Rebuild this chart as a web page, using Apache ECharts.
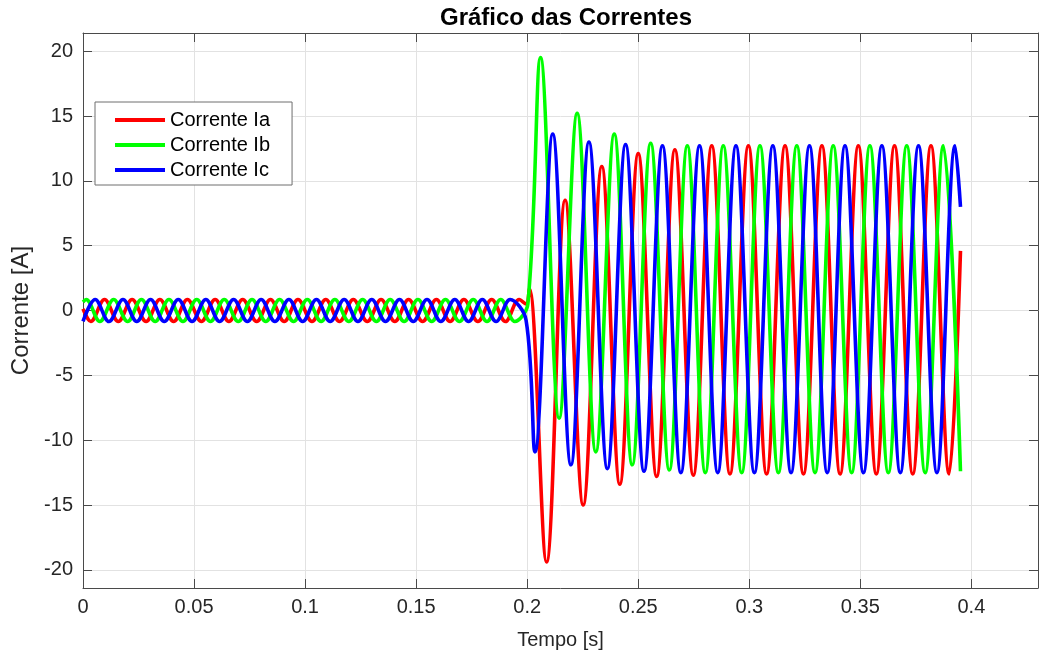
<!DOCTYPE html>
<html>
<head>
<meta charset="utf-8">
<title>Gráfico das Correntes</title>
<script src="https://cdn.jsdelivr.net/npm/echarts@6/dist/echarts.min.js"></script>
<style>
  html, body { margin: 0; padding: 0; background: #fff; }
  #chart { width: 1046px; height: 657px; }
</style>
</head>
<body>
<div id="chart"></div>
<script>
// Phase currents: extrema (peaks / troughs) and end points of each trace, time in s, current in A
const iaTime = [0, 0.0035, 0.0097, 0.0159, 0.0221, 0.0284, 0.0346, 0.0408, 0.0470, 0.0533, 0.0595,
  0.0657, 0.0719, 0.0782, 0.0844, 0.0906, 0.0968, 0.1031, 0.1093, 0.1155, 0.1217, 0.1280, 0.1342,
  0.1404, 0.1466, 0.1529, 0.1591, 0.1653, 0.1715, 0.1778, 0.1840, 0.1902, 0.1964, 0.1995, 0.2010,
  0.2087, 0.2171, 0.2252, 0.2336, 0.2417, 0.2500, 0.2583, 0.2665, 0.2748, 0.2831, 0.2913, 0.2996,
  0.3078, 0.3161, 0.3244, 0.3327, 0.3409, 0.3491, 0.3572, 0.3654, 0.3736, 0.3818, 0.3900, 0.3951];
const iaValue = [0.13, -0.85, 0.85, -0.85, 0.85, -0.85, 0.85, -0.85, 0.85, -0.85, 0.85,
  -0.85, 0.85, -0.85, 0.85, -0.85, 0.85, -0.85, 0.85, -0.85, 0.85, -0.85, 0.85,
  -0.85, 0.85, -0.85, 0.85, -0.85, 0.85, -0.85, 0.85, -0.85, 0.85, 0.5, 1.7,
  -19.4, 8.5, -15.0, 11.1, -13.4, 12.1, -12.8, 12.4, -12.7, 12.7, -12.6, 12.7,
  -12.6, 12.7, -12.6, 12.7, -12.6, 12.7, -12.6, 12.7, -12.6, 12.7, -12.6, 4.6];

const ibTime = [0, 0.0014, 0.0076, 0.0138, 0.0201, 0.0263, 0.0325, 0.0387, 0.0450, 0.0512, 0.0574,
  0.0636, 0.0699, 0.0761, 0.0823, 0.0885, 0.0948, 0.1010, 0.1072, 0.1134, 0.1197, 0.1259, 0.1321,
  0.1383, 0.1446, 0.1508, 0.1570, 0.1632, 0.1695, 0.1757, 0.1819, 0.1881, 0.1944, 0.2003, 0.2060,
  0.2144, 0.2225, 0.2309, 0.2392, 0.2473, 0.2556, 0.2640, 0.2721, 0.2802, 0.2883, 0.2966, 0.3048,
  0.3131, 0.3214, 0.3296, 0.3378, 0.3461, 0.3543, 0.3626, 0.3709, 0.3792, 0.3874, 0.3951];
const ibValue = [0.66, 0.85, -0.85, 0.85, -0.85, 0.85, -0.85, 0.85, -0.85, 0.85, -0.85,
  0.85, -0.85, 0.85, -0.85, 0.85, -0.85, 0.85, -0.85, 0.85, -0.85, 0.85, -0.85,
  0.85, -0.85, 0.85, -0.85, 0.85, -0.85, 0.85, -0.85, 0.85, -0.85, 0.5, 19.5,
  -8.3, 15.2, -10.9, 13.6, -11.9, 12.9, -12.3, 12.7, -12.5, 12.7, -12.5, 12.7,
  -12.5, 12.7, -12.5, 12.7, -12.5, 12.7, -12.5, 12.7, -12.5, 12.7, -12.4];

const icTime = [0, 0.0055, 0.0117, 0.0180, 0.0242, 0.0304, 0.0366, 0.0429, 0.0491, 0.0553, 0.0615,
  0.0678, 0.0740, 0.0802, 0.0864, 0.0927, 0.0989, 0.1051, 0.1113, 0.1176, 0.1238, 0.1300, 0.1362,
  0.1425, 0.1487, 0.1549, 0.1611, 0.1674, 0.1736, 0.1798, 0.1860, 0.1923, 0.1995, 0.2035, 0.2115,
  0.2197, 0.2278, 0.2361, 0.2443, 0.2526, 0.2609, 0.2692, 0.2776, 0.2858, 0.2940, 0.3023, 0.3106,
  0.3188, 0.3271, 0.3351, 0.3431, 0.3514, 0.3597, 0.3680, 0.3762, 0.3845, 0.3927, 0.3951];
const icValue = [-0.84, 0.85, -0.85, 0.85, -0.85, 0.85, -0.85, 0.85, -0.85, 0.85, -0.85,
  0.85, -0.85, 0.85, -0.85, 0.85, -0.85, 0.85, -0.85, 0.85, -0.85, 0.85, -0.85,
  0.85, -0.85, 0.85, -0.85, 0.85, -0.85, 0.85, -0.85, 0.85, -0.75, -10.9, 13.6,
  -11.9, 13.0, -12.2, 12.8, -12.4, 12.7, -12.5, 12.7, -12.5, 12.7, -12.5, 12.7,
  -12.5, 12.7, -12.5, 12.7, -12.5, 12.7, -12.5, 12.7, -12.5, 12.7, 8.0];

const seriesNames = ['Corrente Ia', 'Corrente Ib', 'Corrente Ic'];
const seriesColors = ['#ff0000', '#00ff00', '#0000ff'];

// Axis ranges
const xMin = 0, xMax = 0.43, xStep = 0.05, xLastLabel = 0.4;
const yMin = -21.4, yMax = 21.4, yStep = 5;

const FONT = '"Liberation Sans", Arial, Helvetica, sans-serif';
const AXIS_COLOR = '#4a4a4a';
const GRID_COLOR = '#e2e2e2';

function zip(ts, vs) { return ts.map((t, i) => [t, vs[i]]); }

const traces = [zip(iaTime, iaValue), zip(ibTime, ibValue), zip(icTime, icValue)];

function xLabel(v) {
  if (v > xLastLabel + 1e-9) return '';
  return String(parseFloat(v.toFixed(3)));
}
function yLabel(v) {
  const k = v / yStep;
  return Math.abs(k - Math.round(k)) < 1e-6 ? String(Math.round(v)) : '';
}

// Top and right edges of the box, with inward ticks and no labels
const frameAxis = {
  axisLine: { show: true, onZero: false, lineStyle: { color: AXIS_COLOR, width: 1 } },
  axisTick: { show: true, inside: true, length: 9, lineStyle: { color: AXIS_COLOR, width: 1 } },
  splitLine: { show: false },
  axisLabel: { show: false }
};

const chart = echarts.init(document.getElementById('chart'), null, { renderer: 'canvas' });

chart.setOption({
  animation: false,
  backgroundColor: '#ffffff',
  title: {
    text: 'Gráfico das Correntes',
    left: 561,
    textAlign: 'center',
    top: 1,
    textStyle: { fontFamily: FONT, fontSize: 24, fontWeight: 'bold', color: '#000' }
  },
  grid: { left: 83, right: 8, top: 33, bottom: 69, containLabel: false },
  legend: {
    data: seriesNames,
    orient: 'vertical',
    left: 95,
    top: 102,
    icon: 'rect',
    itemWidth: 50,
    itemHeight: 4,
    itemGap: 5,
    itemTextGap: 7,
    padding: [8, 22, 5, 20],
    backgroundColor: '#ffffff',
    borderColor: '#6e6e6e',
    borderWidth: 1,
    borderRadius: 0,
    selectedMode: false,
    textStyle: { fontFamily: FONT, fontSize: 20, color: '#000', lineHeight: 20 }
  },
  xAxis: [
    {
      type: 'value',
      min: xMin, max: xMax, interval: xStep,
      position: 'bottom',
      name: 'Tempo [s]',
      nameLocation: 'middle',
      nameGap: 42,
      nameTextStyle: { fontFamily: FONT, fontSize: 20, color: '#262626' },
      axisLine: { show: true, onZero: false, lineStyle: { color: AXIS_COLOR, width: 1 } },
      axisTick: { show: true, inside: true, length: 9, lineStyle: { color: AXIS_COLOR, width: 1 } },
      axisLabel: { show: true, margin: 9, fontFamily: FONT, fontSize: 20, color: '#262626',
        formatter: xLabel, showMinLabel: true, showMaxLabel: true },
      splitLine: { show: true, lineStyle: { color: GRID_COLOR, width: 1 } }
    },
    Object.assign({
      type: 'value', min: xMin, max: xMax, interval: xStep, position: 'top'
    }, frameAxis)
  ],
  yAxis: [
    {
      type: 'value',
      min: yMin, max: yMax, splitNumber: 8,
      position: 'left',
      name: 'Corrente [A]',
      nameLocation: 'middle',
      nameGap: 46,
      nameTextStyle: { fontFamily: FONT, fontSize: 24, color: '#262626' },
      axisLine: { show: true, onZero: false, lineStyle: { color: AXIS_COLOR, width: 1 } },
      axisTick: { show: true, inside: true, length: 9, lineStyle: { color: AXIS_COLOR, width: 1 } },
      axisLabel: { show: true, margin: 10, fontFamily: FONT, fontSize: 20, color: '#262626',
        formatter: yLabel, showMinLabel: true, showMaxLabel: true },
      splitLine: { show: true, lineStyle: { color: GRID_COLOR, width: 1 } }
    },
    Object.assign({
      type: 'value', min: yMin, max: yMax, splitNumber: 8, position: 'right'
    }, frameAxis)
  ],
  series: traces.map((data, i) => ({
    name: seriesNames[i],
    type: 'line',
    xAxisIndex: 0,
    yAxisIndex: 0,
    data: data,
    smooth: 0.36,
    showSymbol: false,
    symbol: 'none',
    clip: true,
    color: seriesColors[i],
    lineStyle: { color: seriesColors[i], width: 3.6 },
    emphasis: { disabled: true }
  }))
});
</script>
</body>
</html>
